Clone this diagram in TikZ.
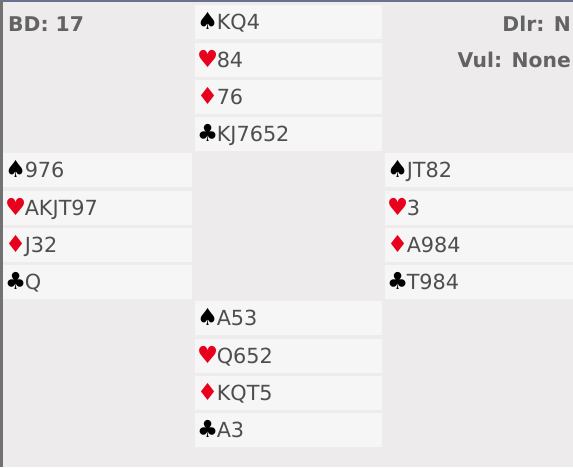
\documentclass[tikz,border=0pt]{standalone}
\usepackage{fontspec}
\setmainfont{DejaVu Sans}
\usepackage{tikz}
\usetikzlibrary{positioning}
\definecolor{pagebg}{HTML}{EDEBEB}
\definecolor{rowbg}{HTML}{F6F6F6}
\definecolor{inkgray}{HTML}{4E4E4E}
\definecolor{labgray}{HTML}{636363}
\definecolor{suitred}{HTML}{E8001C}
\definecolor{topline}{HTML}{6A7190}
\definecolor{sideline}{HTML}{727272}
\newcommand{\suitfont}{\fontsize{23.5}{24}\selectfont}
\newcommand{\spd}{{\suitfont\color{black}♠\kern-1.5pt}}
\newcommand{\hrt}{{\suitfont\color{suitred}♥\kern-1.5pt}}
\newcommand{\dmd}{{\suitfont\color{suitred}♦\kern-1.5pt}}
\newcommand{\clb}{{\suitfont\color{black}♣\kern-1.5pt}}
\tikzset{
  handrow/.style={rectangle, fill=rowbg, text=inkgray, inner xsep=2pt, inner ysep=0pt,
    minimum height=34pt, text height=15pt, text depth=0pt, align=left,
    font=\fontsize{20.8}{24}\selectfont, node distance=3pt},
  boardlab/.style={inner sep=0pt, text=labgray, font=\fontsize{20.3}{24}\selectfont\bfseries}
}

\begin{document}
\begin{tikzpicture}[x=1pt,y=-1pt]
\useasboundingbox (0,0) rectangle (573,467);
\fill[pagebg] (0,0) rectangle (573,467);
\fill[topline] (0,0) rectangle (573,2);
\fill[sideline] (0,0) rectangle (2.5,467);
% north
\node[handrow, text width=183pt, anchor=north west] (n1) at (195,5) {\spd KQ4};
\node[handrow, text width=183pt, below=of n1] (n2) {\hrt 84};
\node[handrow, text width=183pt, below=of n2] (n3) {\dmd 76};
\node[handrow, text width=183pt, below=of n3] (n4) {\clb KJ7652};
% west
\node[handrow, text width=185pt, anchor=north west] (w1) at (3,153) {\spd 976};
\node[handrow, text width=185pt, below=of w1] (w2) {\hrt AKJT97};
\node[handrow, text width=185pt, below=of w2] (w3) {\dmd J32};
\node[handrow, text width=185pt, below=of w3] (w4) {\clb Q};
% east
\node[handrow, text width=184pt, anchor=north west] (e1) at (385,153) {\spd JT82};
\node[handrow, text width=184pt, below=of e1] (e2) {\hrt 3};
\node[handrow, text width=184pt, below=of e2] (e3) {\dmd A984};
\node[handrow, text width=184pt, below=of e3] (e4) {\clb T984};
% south
\node[handrow, text width=183pt, anchor=north west] (s1) at (195,301) {\spd A53};
\node[handrow, text width=183pt, below=of s1] (s2) {\hrt Q652};
\node[handrow, text width=183pt, below=of s2] (s3) {\dmd KQT5};
\node[handrow, text width=183pt, below=of s3] (s4) {\clb A3};
% board info
\node[boardlab, anchor=base west] (bd) at (8,31) {BD: 17};
\node[boardlab, anchor=base east] (dlr) at (571,31) {Dlr: N};
\node[boardlab, anchor=base east] (vul) at (571,67) {Vul: None};
\end{tikzpicture}
\end{document}
